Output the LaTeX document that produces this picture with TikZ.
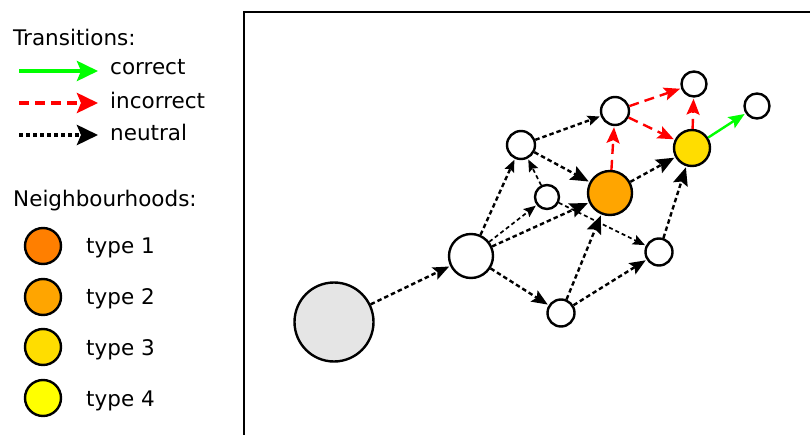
\documentclass[tikz,border=0pt]{standalone}
\usepackage{fontspec}
\setmainfont{DejaVu Sans}
\usetikzlibrary{arrows.meta}
\definecolor{typeone}{HTML}{FF7F00}
\definecolor{typetwo}{HTML}{FFA500}
\definecolor{typethree}{HTML}{FFDD00}
\definecolor{typefour}{HTML}{FFFF00}
\definecolor{startgray}{HTML}{E5E5E5}
\definecolor{okgreen}{HTML}{00FF00}
\definecolor{badred}{HTML}{FF0000}
\begin{document}
\begin{tikzpicture}[x=1pt,y=-1pt,
  state/.style={circle,draw,line width=2.4pt,inner sep=0pt,fill=white},
  lbl/.style={anchor=base west,inner sep=0pt,font=\fontsize{21.5pt}{25pt}\selectfont},
  neutral/.style={line width=2.4pt,dash pattern=on 4.5pt off 3pt,shorten >=1pt},
  thinneutral/.style={line width=1.7pt,dash pattern=on 4pt off 3pt,shorten >=1pt},
  incorrect/.style={line width=2.4pt,badred,dash pattern=on 10pt off 6pt,shorten >=1pt},
  correct/.style={line width=2.4pt,okgreen,shorten >=1pt},
  bigtip/.style={-{Stealth[length=18pt,width=15pt,inset=3pt]}},
  midtip/.style={-{Stealth[length=16pt,width=13pt,inset=3pt]}},
  smalltip/.style={-{Stealth[length=12pt,width=10pt,inset=2pt]}},
  legtip/.style={-{Stealth[length=21pt,width=20pt,inset=4pt]}}
]
\useasboundingbox (0,0) rectangle (810,435);
\begin{scope}
  \clip (0,0) rectangle (810,435);
  \draw[line width=2.2pt] (244,12) rectangle (840,470);
\end{scope}

% legend
\node[lbl] (ttrans) at (13,46) {Transitions:};
\coordinate (lc1) at (19,71);   \coordinate (lc2) at (98,71);
\coordinate (li1) at (19,103);  \coordinate (li2) at (98,103);
\coordinate (ln1) at (19,135);  \coordinate (ln2) at (98,135);
\draw[legtip,okgreen,line width=4pt] (lc1) -- (lc2);
\draw[legtip,badred,line width=4pt,dash pattern=on 10pt off 6pt] (li1) -- (li2);
\draw[legtip,black,line width=4pt,dash pattern=on 4pt off 3pt] (ln1) -- (ln2);
\node[lbl] (tcorrect) at (110,75) {correct};
\node[lbl] (tincorrect) at (110,109) {incorrect};
\node[lbl] (tneutral) at (110,141) {neutral};
\node[lbl] (tneigh) at (13,207) {Neighbourhoods:};
\node[state,fill=typeone,minimum size=36pt] (l1) at (43,246) {};
\node[state,fill=typetwo,minimum size=36pt] (l2) at (43,297) {};
\node[state,fill=typethree,minimum size=36pt] (l3) at (43,347) {};
\node[state,fill=typefour,minimum size=36pt] (l4) at (43,398) {};
\node[lbl] (t1) at (86,254) {type 1};
\node[lbl] (t2) at (86,305) {type 2};
\node[lbl] (t3) at (86,355) {type 3};
\node[lbl] (t4) at (86,406) {type 4};

% graph nodes
\node[state,fill=startgray,minimum size=79pt] (s) at (334,322) {};
\node[state,minimum size=44pt] (a) at (471,256) {};
\node[state,minimum size=28pt] (b) at (521,145) {};
\node[state,minimum size=24pt] (c) at (547,197) {};
\node[state,fill=typetwo,minimum size=44pt] (d) at (610,193) {};
\node[state,minimum size=27pt] (e) at (561,313) {};
\node[state,minimum size=27pt] (f) at (659,252) {};
\node[state,minimum size=28pt] (g) at (615,111) {};
\node[state,fill=typethree,minimum size=36pt] (h) at (692,148) {};
\node[state,minimum size=25pt] (i) at (694,84) {};
\node[state,minimum size=25pt] (j) at (757,106) {};

% neutral edges
\draw[neutral,midtip] (s) -- (a);
\draw[neutral,smalltip] (a) -- (b);
\draw[thinneutral,smalltip] (a) -- (c);
\draw[neutral,bigtip] (a) -- (d);
\draw[neutral,midtip] (a) -- (e);
\draw[thinneutral,smalltip] (c) -- (b);
\draw[thinneutral,smalltip] (c) -- (f);
\draw[neutral,smalltip] (b) -- (g);
\draw[neutral,bigtip] (b) -- (d);
\draw[neutral,bigtip] (e) -- (d);
\draw[neutral,midtip] (e) -- (f);
\draw[neutral,bigtip] (f) -- (h);
\draw[neutral,bigtip] (d) -- (h);

% incorrect edges
\draw[incorrect,midtip] (d) -- (g);
\draw[incorrect,midtip] (g) -- (i);
\draw[incorrect,midtip] (g) -- (h);
\draw[incorrect,midtip] (h) -- (i);

% correct edge
\draw[correct,midtip] (h) -- (j);
\end{tikzpicture}
\end{document}
